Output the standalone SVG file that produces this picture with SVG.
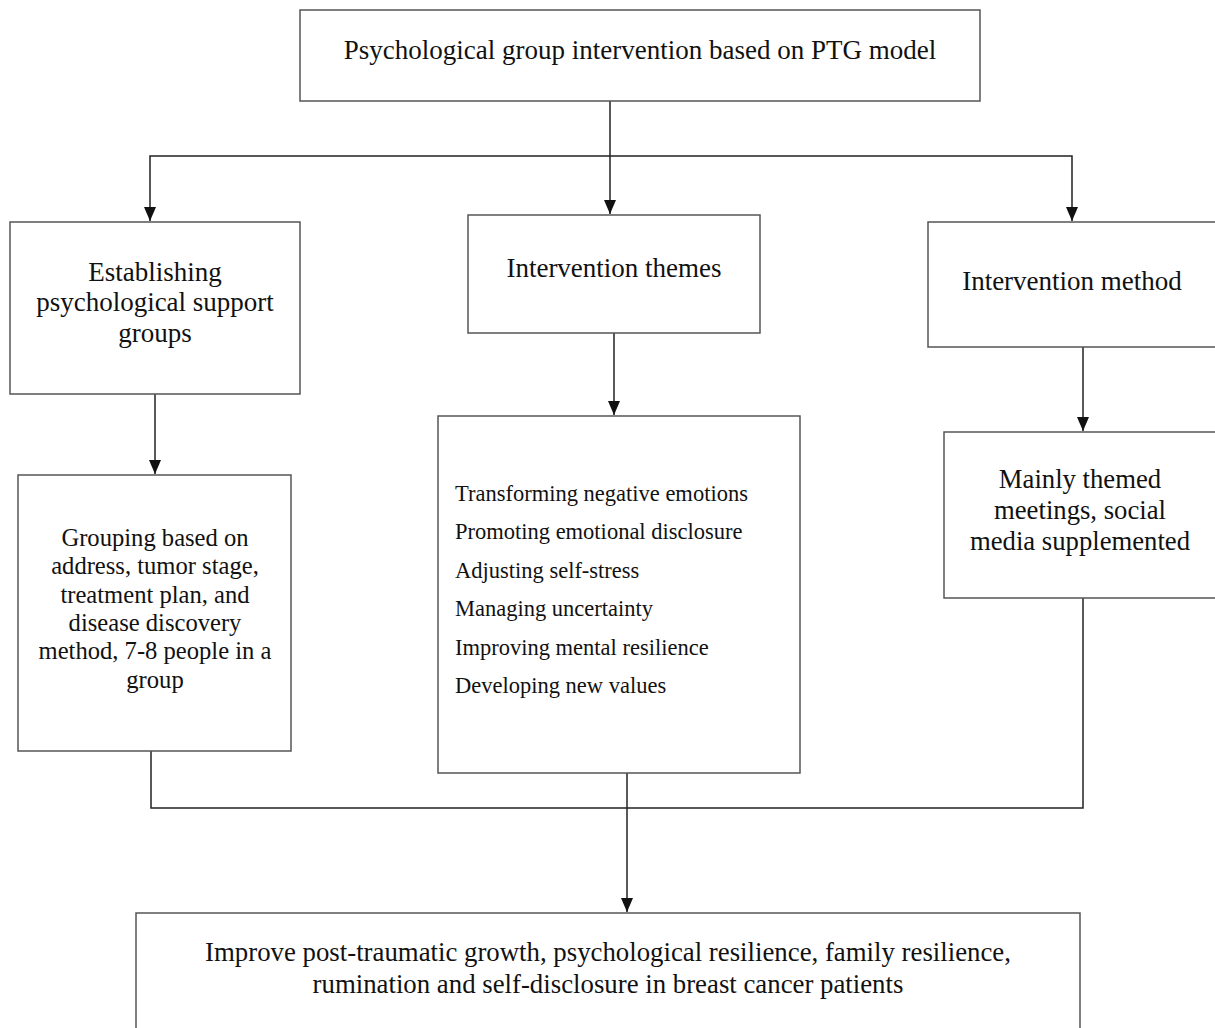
<svg xmlns="http://www.w3.org/2000/svg" width="1215" height="1028" viewBox="0 0 1215 1028">
<defs>
<marker id="arr" viewBox="0 0 14 12" refX="14" refY="6" markerWidth="14" markerHeight="12" markerUnits="userSpaceOnUse" orient="auto-start-reverse">
<path d="M0,0 L14,6 L0,12 Z" fill="#111"/>
</marker>
<style>
.box{fill:#fff;stroke:#555;stroke-width:1.5}
.t{font-family:"Liberation Serif","Times New Roman",serif;fill:#111;text-anchor:middle}
.l{font-family:"Liberation Serif","Times New Roman",serif;fill:#111;font-size:22.5px}
.c{fill:none;stroke:#222;stroke-width:1.5}
</style>
</defs>
<rect width="1215" height="1028" fill="#fff"/>
<g id="connectors">
<path class="c" d="M610,101 V214" marker-end="url(#arr)"/>
<path class="c" d="M150,221 V156 H1072 V221" marker-start="url(#arr)" marker-end="url(#arr)"/>
<path class="c" d="M155,394 V474" marker-end="url(#arr)"/>
<path class="c" d="M614,333 V415" marker-end="url(#arr)"/>
<path class="c" d="M1083,347 V431" marker-end="url(#arr)"/>
<path class="c" d="M151,751 V808 H1083 V598"/>
<path class="c" d="M627,773 V912" marker-end="url(#arr)"/>
</g>
<g id="top">
<rect class="box" x="300" y="10" width="680" height="91"/>
<text class="t" x="640" y="59" font-size="27">Psychological group intervention based on PTG model</text>
</g>
<g id="establish">
<rect class="box" x="10" y="222" width="290" height="172"/>
<text class="t" x="155" y="281" font-size="27">Establishing</text>
<text class="t" x="155" y="311" font-size="27">psychological support</text>
<text class="t" x="155" y="342" font-size="27">groups</text>
</g>
<g id="themes">
<rect class="box" x="468" y="215" width="292" height="118"/>
<text class="t" x="614" y="277" font-size="27">Intervention themes</text>
</g>
<g id="method">
<rect class="box" x="928" y="222" width="300" height="125"/>
<text class="t" x="1072" y="290" font-size="27">Intervention method</text>
</g>
<g id="grouping">
<rect class="box" x="18" y="475" width="273" height="276"/>
<text class="t" x="155" y="546" font-size="24.6">Grouping based on</text>
<text class="t" x="155" y="574" font-size="24.6">address, tumor stage,</text>
<text class="t" x="155" y="603" font-size="24.6">treatment plan, and</text>
<text class="t" x="155" y="631" font-size="24.6">disease discovery</text>
<text class="t" x="155" y="659" font-size="24.6">method, 7-8 people in a</text>
<text class="t" x="155" y="688" font-size="24.6">group</text>
</g>
<g id="themelist">
<rect class="box" x="438" y="416" width="362" height="357"/>
<text class="l" x="455" y="501">Transforming negative emotions</text>
<text class="l" x="455" y="539">Promoting emotional disclosure</text>
<text class="l" x="455" y="578">Adjusting self-stress</text>
<text class="l" x="455" y="616">Managing uncertainty</text>
<text class="l" x="455" y="655">Improving mental resilience</text>
<text class="l" x="455" y="693">Developing new values</text>
</g>
<g id="meetings">
<rect class="box" x="944" y="432" width="284" height="166"/>
<text class="t" x="1080" y="488" font-size="26.7">Mainly themed</text>
<text class="t" x="1080" y="519" font-size="26.7">meetings, social</text>
<text class="t" x="1080" y="550" font-size="26.7">media supplemented</text>
</g>
<g id="outcome">
<rect class="box" x="136" y="913" width="944" height="130"/>
<text class="t" x="608" y="961" font-size="26.8">Improve post-traumatic growth, psychological resilience, family resilience,</text>
<text class="t" x="608" y="993" font-size="26.8">rumination and self-disclosure in breast cancer patients</text>
</g>
</svg>
